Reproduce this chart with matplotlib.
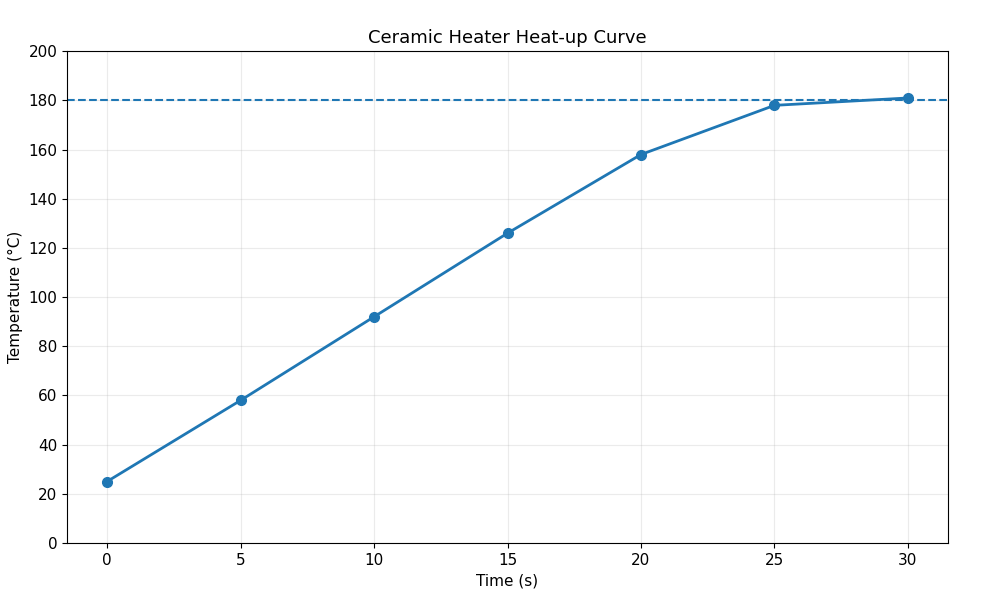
import matplotlib

matplotlib.use("Agg")
import matplotlib.pyplot as plt

time_s = [0, 5, 10, 15, 20, 25, 30]
temp_c = [25, 58, 92, 126, 158, 178, 181]
target_c = 180
y_ticks = list(range(0, 201, 20))

fig = plt.figure(figsize=(10, 6.03), dpi=100)
ax = fig.add_axes([0.067, 0.0995, 0.881, 0.8155])
ax.plot(time_s, temp_c, marker="o", linewidth=2, markersize=7, color="#1f77b4")
ax.axhline(target_c, linestyle="--", linewidth=1.5, color="#1f77b4")
ax.set_ylim(0, 200)
ax.set_yticks(y_ticks)
ax.set_title("Ceramic Heater Heat-up Curve", fontsize=13)
ax.set_xlabel("Time (s)", fontsize=11)
ax.set_ylabel("Temperature (°C)", fontsize=11)
ax.tick_params(labelsize=11)
ax.grid(True, alpha=0.25)
fig.savefig("out.png", dpi=100)
